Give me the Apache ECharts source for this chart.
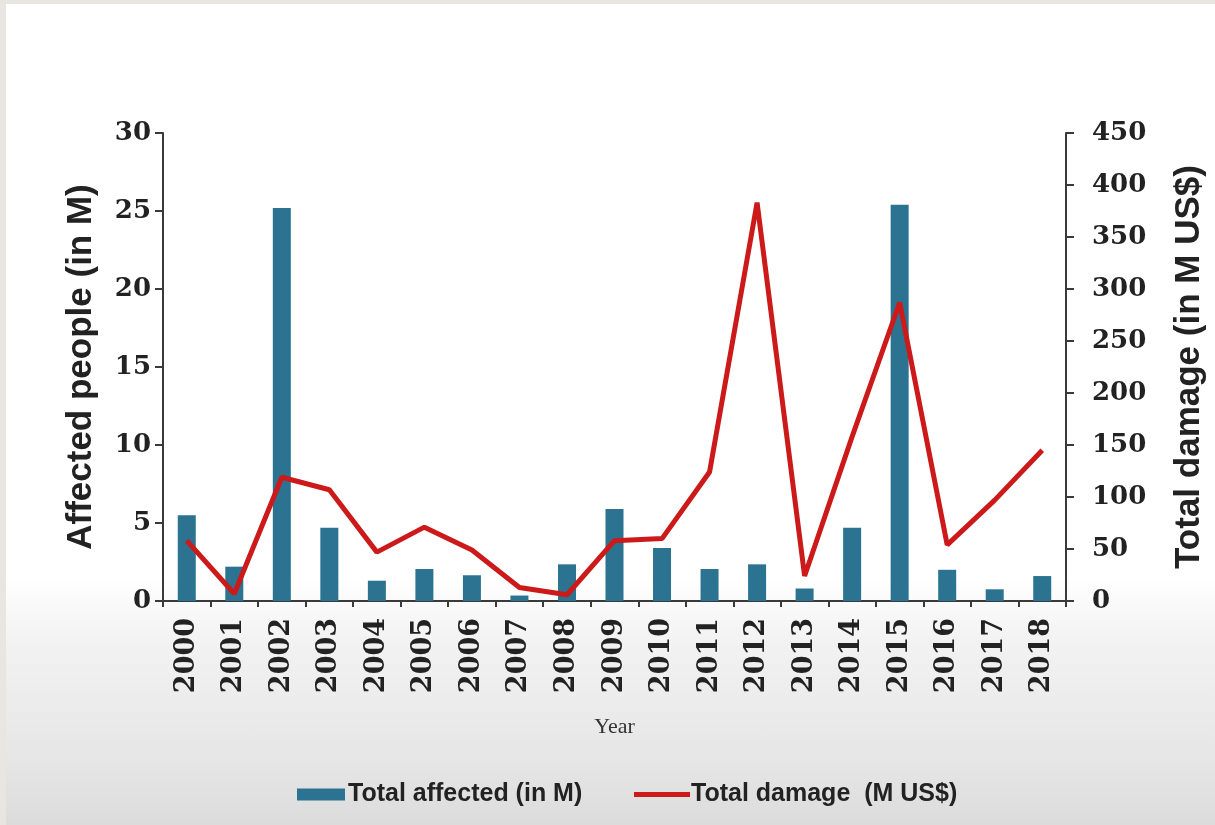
<!DOCTYPE html>
<html>
<head>
<meta charset="utf-8">
<script src="https://cdn.jsdelivr.net/npm/echarts@6/dist/echarts.min.js"></script>
<style>
  html, body { margin: 0; padding: 0; width: 1215px; height: 825px; overflow: hidden; }
  #bg {
    position: absolute; left: 0; top: 0; width: 1215px; height: 825px;
    background: linear-gradient(to bottom, #ffffff 0%, #ffffff 70%, #f2f2f2 78%, #e6e6e6 92%, #dcdcdc 100%);
  }
  #bg::before { content: ""; position: absolute; left: 0; top: 0; width: 1215px; height: 4px; background: #e9e6e2; }
  #bg::after { content: ""; position: absolute; left: 0; top: 0; width: 6px; height: 825px; background: #e9e6e2; }
  #chart { position: absolute; left: 0; top: 0; width: 1215px; height: 825px; }
</style>
</head>
<body>
<div id="bg"></div>
<div id="chart"></div>
<script>
// Years on the category axis
const years = ['2000','2001','2002','2003','2004','2005','2006','2007','2008','2009',
               '2010','2011','2012','2013','2014','2015','2016','2017','2018'];
// Total affected people per year (millions)
const affected = [5.5, 2.2, 25.2, 4.7, 1.3, 2.05, 1.65, 0.35, 2.35, 5.9,
                  3.4, 2.05, 2.35, 0.8, 4.7, 25.4, 2.0, 0.75, 1.6];
// Total damage per year (million US$)
const damage = [58, 7, 119, 107, 47, 71, 49, 13, 6, 58,
                60, 124, 383, 24, 158, 287, 54, 97, 145];

const serifNum = 'DejaVu Serif';
const sans = 'Liberation Sans, Arial, sans-serif';
const ink = '#222';
const barColor = '#2b7391';
const lineColor = '#cc1a1a';
const axisLine = { show: true, lineStyle: { color: '#3a3a3a', width: 2 } };

const chart = echarts.init(document.getElementById('chart'), null, { renderer: 'canvas' });
chart.setOption({
  backgroundColor: 'transparent',
  animation: false,
  grid: { left: 163, right: 139, top: 133, bottom: 224, containLabel: false },
  legend: [
    {
      data: [{ name: 'Total affected (in M)', icon: 'rect' }],
      left: 292, top: 777, padding: 5, itemWidth: 48, itemHeight: 12, itemGap: 4,
      textStyle: { fontFamily: sans, fontWeight: 'bold', fontSize: 25, color: ink, padding: [0, 0, 0, -2] }
    },
    {
      data: [{ name: 'Total damage  (M US$)', icon: 'rect', itemStyle: { color: lineColor } }],
      left: 629, top: 777, padding: 5, itemWidth: 56, itemHeight: 5, itemGap: 4,
      textStyle: { fontFamily: sans, fontWeight: 'bold', fontSize: 25, color: ink, padding: [0, 0, 0, -4] }
    }
  ],
  xAxis: {
    type: 'category',
    data: years,
    boundaryGap: true,
    name: 'Year',
    nameLocation: 'middle',
    nameGap: 115,
    nameTextStyle: { fontFamily: 'Liberation Serif', fontSize: 22, color: '#333' },
    axisLine: axisLine,
    axisTick: { show: true, inside: false, length: 6, alignWithLabel: false, lineStyle: { color: '#3a3a3a', width: 2 } },
    axisLabel: { rotate: 90, margin: 17, fontFamily: serifNum, fontWeight: 'bold', fontSize: 27, color: ink, interval: 0 },
    splitLine: { show: false }
  },
  yAxis: [
    {
      type: 'value', min: 0, max: 30, interval: 5,
      name: 'Affected people (in M)',
      nameLocation: 'middle', nameRotate: 90, nameGap: 64,
      nameTextStyle: { fontFamily: sans, fontWeight: 'bold', fontSize: 35, color: ink },
      axisLine: axisLine,
      axisTick: { show: true, length: 8, lineStyle: { color: '#3a3a3a', width: 2 } },
      axisLabel: { margin: 12, fontFamily: serifNum, fontWeight: 'bold', fontSize: 26, color: ink },
      splitLine: { show: false }
    },
    {
      type: 'value', min: 0, max: 450, interval: 50,
      position: 'right',
      name: 'Total damage (in M US$)',
      nameLocation: 'middle', nameRotate: 90, nameGap: 106,
      nameTextStyle: { fontFamily: sans, fontWeight: 'bold', fontSize: 35, color: ink },
      axisLine: axisLine,
      axisTick: { show: true, length: 8, lineStyle: { color: '#3a3a3a', width: 2 } },
      axisLabel: { margin: 26, fontFamily: serifNum, fontWeight: 'bold', fontSize: 26, color: ink },
      splitLine: { show: false }
    }
  ],
  series: [
    {
      name: 'Total affected (in M)',
      type: 'bar',
      yAxisIndex: 0,
      data: affected,
      barWidth: 18,
      itemStyle: { color: barColor }
    },
    {
      name: 'Total damage  (M US$)',
      type: 'line',
      yAxisIndex: 1,
      data: damage,
      symbol: 'none',
      lineStyle: { color: lineColor, width: 5 },
      itemStyle: { color: lineColor }
    }
  ]
});
</script>
</body>
</html>
